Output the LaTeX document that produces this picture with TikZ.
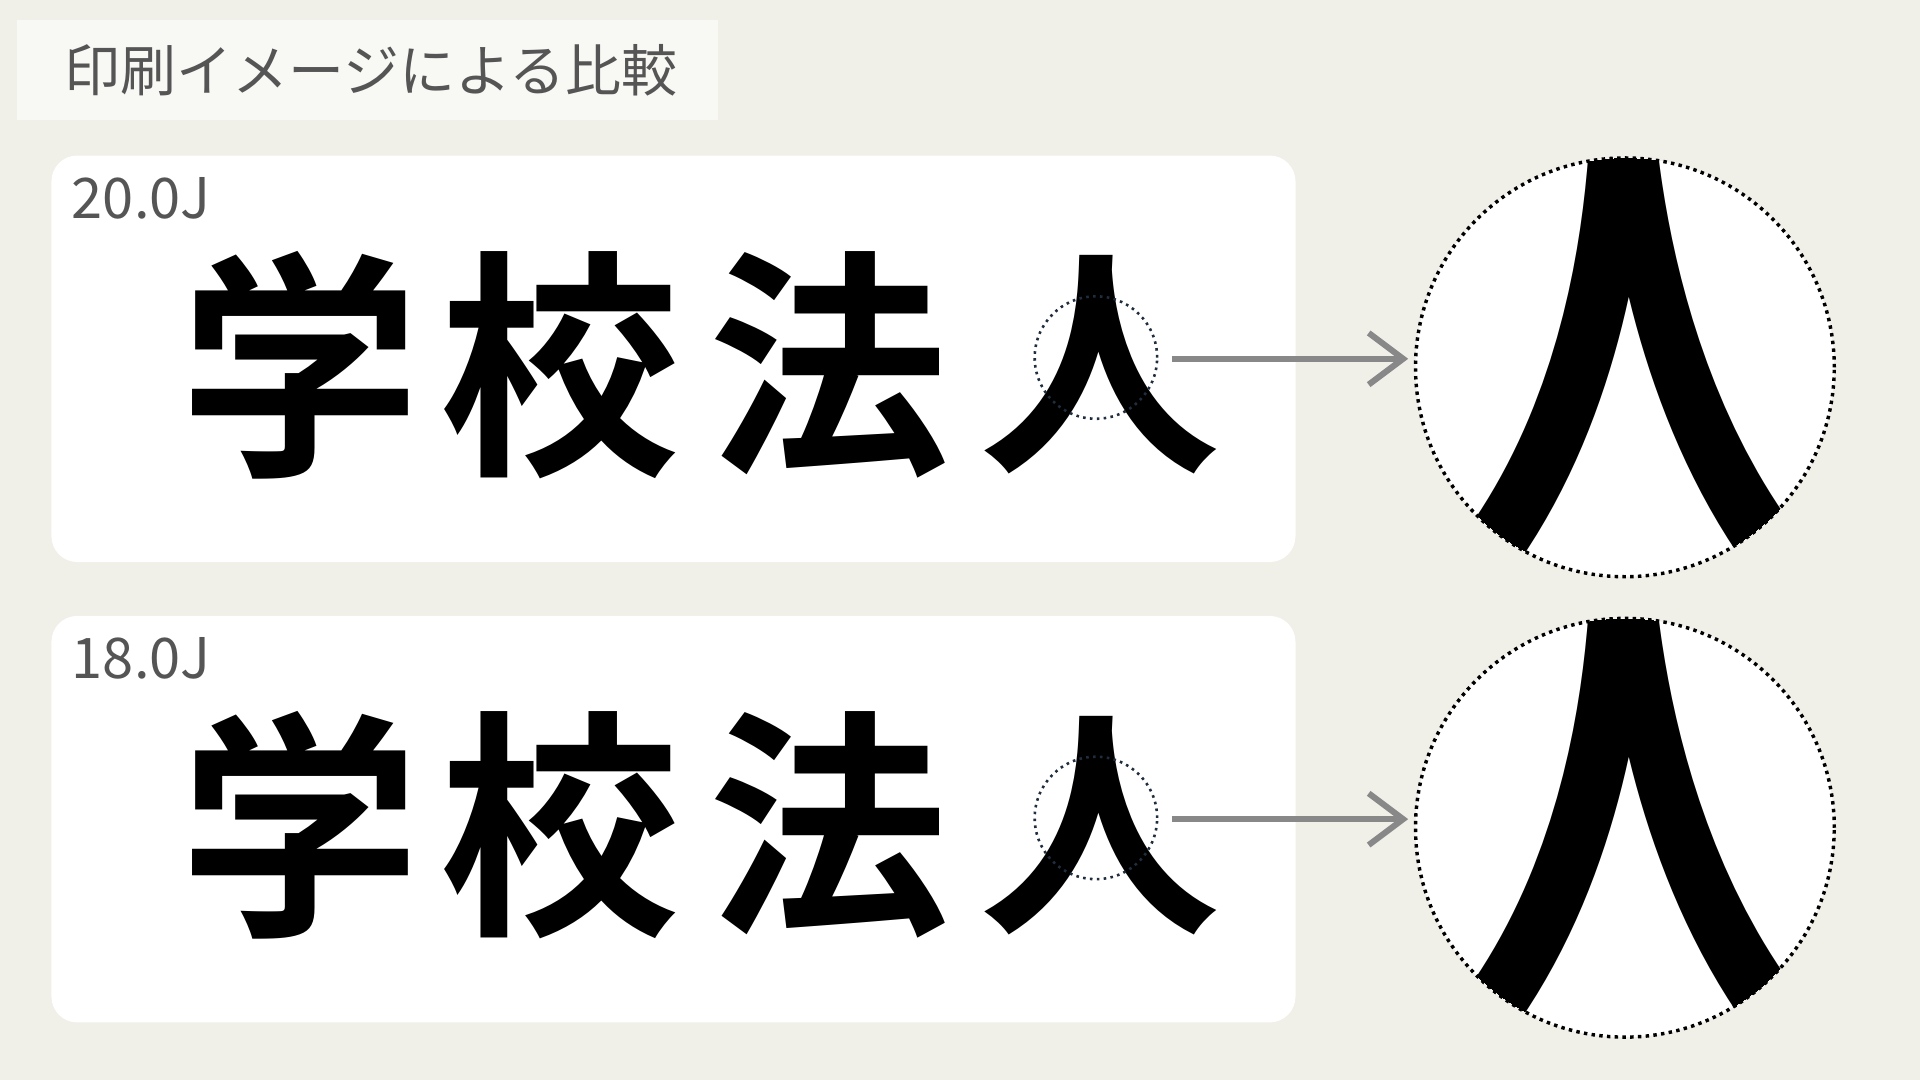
\documentclass[tikz,border=0pt]{standalone}
\usepackage{fontspec}
\newfontfamily\jp{Noto Sans CJK JP}
\newfontfamily\jpb{Noto Sans CJK JP Bold}
\usetikzlibrary{arrows.meta}
\definecolor{bg}{HTML}{F0EFE8}
\definecolor{tb}{HTML}{F8F8F4}
\definecolor{txt}{HTML}{555555}
\definecolor{arr}{HTML}{888888}
\definecolor{navy}{HTML}{1F2D3D}
\tikzset{panel/.style={fill=white,rounded corners=6pt,draw=none},
 big/.style={font=\jpb\fontsize{56}{60}\selectfont,inner sep=0},
 lbl/.style={font=\jp\fontsize{13}{15}\selectfont,text=txt,anchor=west,inner sep=0},
 zc/.style={draw=navy,densely dotted,line width=0.6pt},
 bc/.style={draw=black,densely dotted,line width=0.8pt},
 arw/.style={draw=arr,line width=1.4pt,-{Straight Barb[length=8pt,width=12pt,line width=1.4pt]}}}
\begin{document}
\begin{tikzpicture}[x=0.01cm,y=-0.01cm]
\fill[bg] (0,0) rectangle (1568,882);
\fill[tb] (14,16) rectangle (586,98);
\node[font=\jp\fontsize{13}{15}\selectfont,text=txt,anchor=west,inner sep=0] (title) at (52,57) {印刷イメージによる比較};
\foreach \y/\lab/\n in {0/20.0J/a,376/18.0J/b}{
 \begin{scope}[yshift=-\y*0.01cm]
 \fill[panel] (42,127) rectangle (1058,459);
 \node[lbl] (l\n) at (58,162) {\lab};
 \node[big] (c1\n) at (245,298) {学};
 \node[big] (c2\n) at (457,298) {校};
 \node[big] (c3\n) at (677,298) {法};
 \node[big] (c4\n) at (898,298) {人};
 \node[circle,zc,minimum size=100*0.01cm,inner sep=0] (s\n) at (895,292) {};
 \fill[white] (1327,300) circle (171);
 \begin{scope}
  \clip (1327,300) circle (171);
  \node[inner sep=0,font=\jp\fontsize{175}{185}\selectfont] at (1333,330) {人};
 \end{scope}
 \node[circle,bc,minimum size=342*0.01cm,inner sep=0] (B\n) at (1327,300) {};
 \coordinate (e\n) at (1150,293);
 \draw[arw] (957,293) -- (e\n);
 \end{scope}}
\end{tikzpicture}
\end{document}
